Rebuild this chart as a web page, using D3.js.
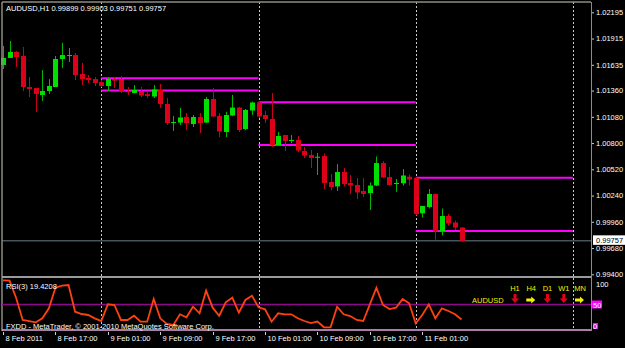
<!DOCTYPE html>
<html>
<head>
<meta charset="utf-8">
<title>AUDUSD,H1</title>
<script src="https://cdn.jsdelivr.net/npm/d3@7"></script>
<style>
  body { margin: 0; background: #000; }
  svg { display: block; }
  text { font-family: "Liberation Sans", Arial, sans-serif; font-size: 7.5px; fill: #fff; }
</style>
</head>
<body>
<script>
// chart data (hourly bars from 8 Feb 2011 09:00)
var symbol = 'AUDUSD,H1';
var firstBar = new Date(Date.UTC(2011, 1, 8, 9));
var open  = [1.01633,1.01708,1.01772,1.01729,1.01398,1.01387,1.01313,1.01355,1.01398,1.01697,
             1.01734,1.01739,1.01537,1.01494,1.01483,1.01451,1.01409,1.01483,1.01483,1.01355,
             1.01334,1.01355,1.01323,1.01297,1.01366,1.01217,1.01019,1.01019,1.01078,1.01003,
             1.01078,1.01019,1.01270,1.01089,1.00918,1.01094,1.01179,1.00950,1.01147,1.01233,
             1.01099,1.01057,1.00779,1.00886,1.00830,1.00833,1.00715,1.00673,1.00649,1.00662,
             1.00385,1.00337,1.00491,1.00374,1.00353,1.00289,1.00267,1.00347,1.00587,1.00438,
             1.00369,1.00371,1.00441,1.00427,1.00051,1.00118,1.00257,0.99857,1.00022,0.99953,
             0.99899];
var high  = [1.01836,1.01889,1.01782,1.01825,1.01505,1.01387,1.01579,1.01483,1.01729,1.01868,
             1.01814,1.01761,1.01654,1.01526,1.01505,1.01473,1.01505,1.01505,1.01515,1.01398,
             1.01419,1.01398,1.01345,1.01419,1.01430,1.01281,1.01089,1.01174,1.01121,1.01099,
             1.01121,1.01291,1.01387,1.01121,1.01131,1.01313,1.01185,1.01163,1.01243,1.01249,
             1.01142,1.01334,1.00918,1.00886,1.00886,1.00875,1.00758,1.00726,1.00694,1.00689,
             1.00470,1.00577,1.00534,1.00459,1.00427,1.00427,1.00379,1.00657,1.00609,1.00545,
             1.00417,1.00523,1.00465,1.00438,1.00129,1.00310,1.00262,1.00102,1.00043,0.99974,
             0.99903];
var low   = [1.01590,1.01708,1.01611,1.01355,1.01291,1.01131,1.01249,1.01323,1.01398,1.01601,
             1.01665,1.01473,1.01419,1.01441,1.01409,1.01398,1.01355,1.01387,1.01334,1.01313,
             1.01329,1.01291,1.01281,1.01281,1.01174,1.00993,1.00929,1.00993,1.00939,1.00971,
             1.00907,1.01014,1.01078,1.00865,1.00865,1.01089,1.00918,1.00939,1.01099,1.01067,
             1.01014,1.00758,1.00769,1.00715,1.00801,1.00705,1.00641,1.00534,1.00459,1.00310,
             1.00294,1.00289,1.00337,1.00257,1.00203,1.00225,1.00086,1.00342,1.00427,1.00345,
             1.00281,1.00347,1.00347,1.00027,1.00006,1.00102,0.99771,0.99814,0.99918,0.99873,
             0.99751];
var close = [1.01708,1.01772,1.01718,1.01398,1.01377,1.01323,1.01355,1.01409,1.01697,1.01739,
             1.01739,1.01526,1.01483,1.01473,1.01441,1.01409,1.01483,1.01467,1.01345,1.01345,
             1.01366,1.01307,1.01302,1.01371,1.01217,1.01014,1.01025,1.01073,1.01014,1.01078,
             1.01014,1.01270,1.01083,1.00923,1.01099,1.01179,1.00939,1.01153,1.01233,1.01083,
             1.01057,1.00779,1.00875,1.00822,1.00833,1.00721,1.00667,1.00641,1.00654,1.00374,
             1.00331,1.00491,1.00363,1.00347,1.00273,1.00257,1.00347,1.00587,1.00433,1.00353,
             1.00374,1.00454,1.00411,1.00043,1.00129,1.00257,0.99857,1.00022,0.99944,0.99899,
             0.99757];
var rsi = [99.4,98.6,63.3,18.4,16.3,13.7,21.8,42.2,84.3,88.4,
           89.8,35.3,30.6,28.6,21.8,16.3,50.4,49.0,18.4,18.4,
           27.1,14.9,14.9,61.2,21.8,10.2,8.2,30.0,23.9,45.5,
           32.0,78.2,43.5,27.1,54.5,63.9,33.3,59.2,68.0,44.3,
           40.2,14.9,32.0,30.0,30.0,21.8,16.3,12.2,15.3,3.5,
           3.5,45.5,30.0,26.5,18.4,16.3,50.4,84.3,49.0,40.8,
           43.5,61.2,52.4,11.6,28.6,50.4,21.8,42.2,36.7,30.0,
           19.4208];

// daily high / low lines
var levelDays = ['2011-02-09', '2011-02-10', '2011-02-11'];
var levelHigh = [1.01491, 1.01235, 1.00430];
var levelLow  = [1.01361, 1.00779, 0.99862];

var priceTicks = [1.02195, 1.01915, 1.01635, 1.01360, 1.01080, 1.00800, 1.00520, 1.00240, 0.99960, 0.99680, 0.99400];
var rsiLevels = [50];
var tfNames = ['H1', 'H4', 'D1', 'W1', 'MN'];
var tfDir   = ['down', 'right', 'down', 'down', 'right'];
var copyright = 'FXDD - MetaTrader, \u00a9 2001-2010 MetaQuotes Software Corp.';

var W = 625, H = 348
    , plotL = 2, plotR = 591, plotT = 2
    , rsiB = 330
    , HOUR = 3600 * 1000;

var barTime = open.map((d, i) => new Date(+firstBar + i * HOUR));

var x = d3.scaleUtc()
    .domain([firstBar, new Date(+firstBar + 87 * HOUR)])
    .range([3.05, 3.05 + 87 * 6.55]);

var y = d3.scaleLinear()
    .domain([0.99400, 1.02195])
    .range([274.3, 12.3]);

var yr = d3.scaleLinear()
    .domain([0, 100])
    .range([329, 280]);

var svg = d3.select('body').append('svg')
    .attr('width', W)
    .attr('height', H);

svg.append('rect').attr('width', W).attr('height', H).attr('fill', '#000');

// day separators
var days = d3.utcDay.range(d3.utcDay.ceil(firstBar), new Date(+firstBar + 88 * HOUR));
svg.append('g').selectAll('line')
    .data(days)
    .enter().append('line')
    .attr('x1', d => Math.round(x(d)) + 0.5)
    .attr('x2', d => Math.round(x(d)) + 0.5)
    .attr('y1', plotT)
    .attr('y2', rsiB)
    .attr('stroke', '#c8c8c8')
    .attr('stroke-dasharray', '2,2');

// day high/low lines
var lv = svg.append('g');
levelDays.forEach(function (d, i) {
    var t0 = new Date(d + 'T00:00:00Z'), t1 = new Date(+t0 + 24 * HOUR);
    [levelHigh[i], levelLow[i]].forEach(function (p) {
        lv.append('line')
            .attr('x1', x(t0)).attr('x2', x(t1))
            .attr('y1', y(p)).attr('y2', y(p))
            .attr('stroke', '#ff00ff')
            .attr('stroke-width', 2);
    });
});

// bid line
var last = close[close.length - 1];
svg.append('line')
    .attr('x1', plotL).attr('x2', plotR)
    .attr('y1', y(last)).attr('y2', y(last))
    .attr('stroke', '#46545c')
    .attr('stroke-width', 1.5);

// candles
var candles = svg.append('g').selectAll('g')
    .data(barTime)
    .enter().append('g');

candles.append('line')
    .attr('x1', d => Math.round(x(d)) + 0.5)
    .attr('x2', d => Math.round(x(d)) + 0.5)
    .attr('y1', (d, i) => y(high[i]))
    .attr('y2', (d, i) => y(low[i]))
    .attr('stroke', (d, i) => close[i] >= open[i] ? '#00b800' : '#c8001a');

candles.append('rect')
    .attr('x', d => Math.round(x(d)) - 2)
    .attr('width', 5)
    .attr('y', (d, i) => y(Math.max(open[i], close[i])))
    .attr('height', (d, i) => Math.max(1, Math.abs(y(open[i]) - y(close[i]))))
    .attr('fill', (d, i) => close[i] >= open[i] ? '#00e000' : '#dc0018');

// frame
svg.append('line').attr('x1', plotL).attr('x2', plotR).attr('y1', 2).attr('y2', 2)
    .attr('stroke', '#8c8c80').attr('stroke-width', 1.5);
svg.append('line').attr('x1', 2).attr('x2', 2).attr('y1', 2).attr('y2', rsiB + 1)
    .attr('stroke', '#8c8c80').attr('stroke-width', 1.5);
svg.append('line').attr('x1', plotL).attr('x2', plotR).attr('y1', 277).attr('y2', 277)
    .attr('stroke', '#9a9a9a').attr('stroke-width', 2);

// price axis
var axY = svg.append('g')
    .attr('transform', `translate(${plotR},0)`)
    .call(d3.axisRight(y).tickValues(priceTicks).tickFormat(d3.format('.5f')).tickSize(3).tickPadding(2));
axY.select('.domain').remove();
axY.selectAll('line').attr('stroke', '#ccc');
axY.selectAll('text').attr('fill', '#fff').style('font-family', '"Liberation Sans", Arial, sans-serif').style('font-size', '7.5px');
svg.append('line').attr('x1', plotR + 0.5).attr('x2', plotR + 0.5).attr('y1', 2).attr('y2', rsiB + 1)
    .attr('stroke', '#8c8c80');

// current price tag
svg.append('rect').attr('x', 593).attr('y', y(last) - 5.5).attr('width', 32).attr('height', 9.5).attr('fill', '#fff');
svg.append('text').attr('x', 596).attr('y', y(last) + 2.5).style('fill', '#000').text(d3.format('.5f')(last));

// header
svg.append('text').attr('x', 6).attr('y', 11)
    .text(symbol + '  ' + [open, high, low, close].map(a => d3.format('.5f')(a[a.length - 1])).join(' '));

// RSI window
svg.append('g').selectAll('line')
    .data(rsiLevels)
    .enter().append('line')
    .attr('x1', plotL).attr('x2', plotR)
    .attr('y1', d => yr(d)).attr('y2', d => yr(d))
    .attr('stroke', '#8a0a8a').attr('stroke-width', 1.5);

svg.append('line').attr('x1', plotL).attr('x2', plotR).attr('y1', rsiB).attr('y2', rsiB)
    .attr('stroke', '#e0a8e0').attr('stroke-width', 1.5);

svg.append('path')
    .datum(rsi)
    .attr('fill', 'none')
    .attr('stroke', '#ff4010')
    .attr('stroke-width', 1.8)
    .attr('d', d3.line().x((d, i) => x(barTime[i])).y(d => yr(d)));

svg.append('text').attr('x', 6).attr('y', 289).text('RSI(3) ' + d3.format('.4f')(rsi[rsi.length - 1]));
svg.append('text').attr('x', 6).attr('y', 329).text(copyright);

svg.append('text').attr('x', 596).attr('y', 287).text('100');
svg.append('rect').attr('x', 592).attr('y', yr(50) - 4).attr('width', 10).attr('height', 8).attr('fill', '#ff00ff');
svg.append('text').attr('x', 593).attr('y', yr(50) + 3).text('50');
svg.append('rect').attr('x', 593).attr('y', 323).attr('width', 5).attr('height', 6).attr('fill', '#ff00ff');
svg.append('text').attr('x', 593).attr('y', 329).text('0');

// signal panel
svg.append('text').attr('x', 472).attr('y', 303).style('fill', '#f0f000').text('AUDUSD');
var tfX = d3.scalePoint().domain(tfNames).range([515, 580]);
var tf = svg.append('g').selectAll('g')
    .data(tfNames)
    .enter().append('g')
    .attr('transform', d => `translate(${tfX(d)},0)`);
tf.append('text')
    .attr('y', 291)
    .attr('text-anchor', 'middle')
    .style('fill', '#f0f000')
    .text(d => d);
tf.append('path')
    .attr('d', (d, i) => tfDir[i] === 'down'
        ? 'M-1.5,294 L1.5,294 L1.5,298.5 L4,298.5 L0,303 L-4,298.5 L-1.5,298.5 Z'
        : 'M-5,298.5 L0,298.5 L0,296.5 L4,300 L0,303.5 L0,301.5 L-5,301.5 Z')
    .attr('fill', (d, i) => tfDir[i] === 'down' ? '#e0001a' : '#f0f000');

// time axis
var timeTicks = barTime.filter((d, i) => i % 8 === 0);
var fmt = d3.utcFormat('%-d %b %H:%M');
var tx = svg.append('g').selectAll('g')
    .data(timeTicks)
    .enter().append('g')
    .attr('transform', d => `translate(${Math.round(x(d)) + 0.5},0)`);
tx.append('line').attr('y1', 332).attr('y2', 335).attr('stroke', '#ccc');
tx.append('text')
    .attr('x', 2)
    .attr('y', 341)
    .text((d, i) => i === 0 ? d3.utcFormat('%-d %b %Y')(d) : fmt(d));
</script>
</body>
</html>
